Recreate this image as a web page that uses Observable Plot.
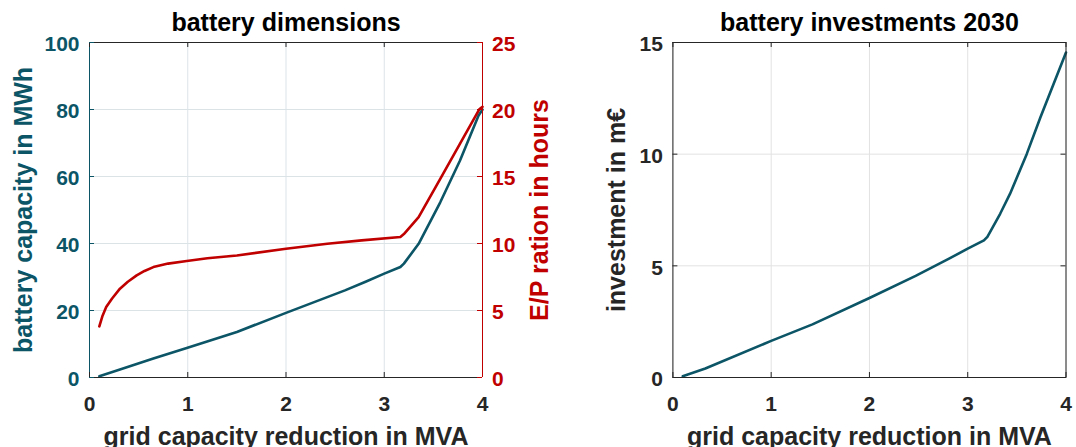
<!DOCTYPE html>
<html><head><meta charset="utf-8">
<script src="https://cdn.jsdelivr.net/npm/d3@7"></script>
<script src="https://cdn.jsdelivr.net/npm/@observablehq/plot@0.6"></script>
<style>
body{margin:0;background:#fff;}
#root{position:relative;width:1076px;height:447px;overflow:hidden;background:#fff;}
#root svg{position:absolute;top:0;}
</style></head><body><div id="root"></div>
<script>
// ---- data ----
const xTicks = [0, 1, 2, 3, 4];
const capTicks = [0, 20, 40, 60, 80, 100];
const epTicks = [0, 5, 10, 15, 20, 25];
const invTicks = [0, 5, 10, 15];
const xDomain = [0, 4];
const capDomain = [0, 100];
const epDomain = [0, 25];
const invDomain = [0, 15];

// battery capacity in MWh
const capX = [0.1, 0.31, 0.65, 0.99, 1.5, 2.0, 2.6, 2.81, 3.0, 3.164, 3.2, 3.35, 3.57, 3.77, 3.96, 4.0];
const capY = [0.4, 2.4, 5.66, 8.82, 13.6, 19.3, 26.0, 28.6, 31.0, 33.0, 34.0, 39.9, 52.3, 64.7, 78.2, 80.0];
// E/P ratio in hours
const epX = [0.1, 0.13, 0.17, 0.23, 0.31, 0.39, 0.48, 0.56, 0.65, 0.8, 0.99, 1.2, 1.5, 2.0, 2.42, 2.77, 3.164, 3.2, 3.35, 3.57, 3.77, 3.97, 4.0];
const epY = [3.82, 4.55, 5.26, 5.9, 6.63, 7.15, 7.62, 7.95, 8.24, 8.5, 8.69, 8.9, 9.11, 9.61, 9.98, 10.23, 10.48, 10.7, 11.97, 14.83, 17.44, 20.04, 20.2];
// investment in m€
const invX = [0.1, 0.33, 1.0, 1.42, 2.0, 2.47, 2.81, 3.0, 3.165, 3.2, 3.33, 3.43, 3.6, 3.74, 4.0];
const invY = [0.06, 0.40, 1.64, 2.38, 3.56, 4.55, 5.32, 5.77, 6.14, 6.3, 7.33, 8.22, 10.0, 11.65, 14.55];

const titles = ["battery dimensions", "battery investments 2030"];
const xLabel = "grid capacity reduction in MVA";
const capLabel = "battery capacity in MWh";
const epLabel = "E/P ration in hours";
const invLabel = "investment in m€";

// ---- styles ----
const FONT = "'Liberation Sans', Arial, Helvetica, sans-serif";
const DARK = "#262626", BLUE = "#0b5567", RED = "#c00000";
const H = 447, MT = 42, MB = 70;
const FH = H - MT - MB;
const TICK = 5;
const TF = 21, LF = 25;

const cap = capX.map((x, i) => ({x, y: capY[i]}));
const ep = epX.map((x, i) => ({x, y: epY[i]}));
const inv = invX.map((x, i) => ({x, y: invY[i]}));

function panel({width, ml, mr, yDomain, marks}) {
  return Plot.plot({
    width, height: H, marginTop: MT, marginBottom: MB, marginLeft: ml, marginRight: mr,
    x: {domain: xDomain, axis: null},
    y: {domain: yDomain, axis: null},
    style: {background: "transparent", fontFamily: FONT, overflow: "visible"},
    marks
  });
}
const txt = {fontWeight: "bold", fontSize: TF, lineAnchor: "middle"};
const lab = {fontWeight: "bold", fontSize: LF, lineAnchor: "middle", textAnchor: "middle"};

// left panel (capacity)
const LW = 560, LML = 89, LMR = 78, LFW = LW - LML - LMR;
const left = panel({
  width: LW, ml: LML, mr: LMR, yDomain: capDomain,
  marks: [
    Plot.ruleX(xTicks, {x: d => d, stroke: "#dbe3e7", strokeWidth: 1}),
    Plot.ruleY(capTicks, {y: d => d, stroke: "#dbe3e7", strokeWidth: 1}),
    Plot.line(cap, {x: "x", y: "y", stroke: BLUE, strokeWidth: 2.6, curve: "linear"}),
    Plot.ruleY([capDomain[0]], {y: d => d, stroke: DARK, strokeWidth: 1}),
    Plot.ruleY([capDomain[1]], {y: d => d, stroke: DARK, strokeWidth: 1}),
    Plot.ruleX([xDomain[0]], {x: d => d, stroke: BLUE, strokeWidth: 1}),
    Plot.tickX(xTicks, {x: d => d, stroke: DARK, insetTop: FH - TICK}),
    Plot.tickX(xTicks, {x: d => d, stroke: DARK, insetBottom: FH - TICK}),
    Plot.tickY(capTicks, {y: d => d, stroke: BLUE, insetRight: LFW - TICK}),
    Plot.text(xTicks, {x: d => d, text: d => String(d), frameAnchor: "bottom", textAnchor: "middle", dy: 26.6, fill: DARK, ...txt}),
    Plot.text(capTicks, {y: d => d, text: d => String(d), frameAnchor: "left", textAnchor: "end", dx: -10, dy: 2, fill: BLUE, ...txt}),
    Plot.text([titles[0]], {frameAnchor: "top", dy: -20, fill: "#000", ...lab}),
    Plot.text([xLabel], {frameAnchor: "bottom", dy: 59, fill: DARK, ...lab}),
    Plot.text([capLabel], {frameAnchor: "left", dx: -66, rotate: -90, fill: BLUE, ...lab})
  ]
});

// left panel overlay (E/P ratio, right axis)
const overlay = panel({
  width: LW, ml: LML, mr: LMR, yDomain: epDomain,
  marks: [
    Plot.line(ep, {x: "x", y: "y", stroke: RED, strokeWidth: 2.6, curve: "linear"}),
    Plot.ruleX([xDomain[1]], {x: d => d, stroke: RED, strokeWidth: 1}),
    Plot.tickY(epTicks, {y: d => d, stroke: RED, insetLeft: LFW - TICK}),
    Plot.text(epTicks, {y: d => d, text: d => String(d), frameAnchor: "right", textAnchor: "start", dx: 9.5, dy: 2, fill: RED, ...txt}),
    Plot.text([epLabel], {frameAnchor: "right", dx: 57, rotate: -90, fill: RED, ...lab})
  ]
});

// right panel (investment)
const RW = 536, RML = 132.4, RMR = 10.5, RFW = RW - RML - RMR;
const right = panel({
  width: RW, ml: RML, mr: RMR, yDomain: invDomain,
  marks: [
    Plot.ruleX(xTicks, {x: d => d, stroke: "#e2e2e2", strokeWidth: 1}),
    Plot.ruleY(invTicks, {y: d => d, stroke: "#e2e2e2", strokeWidth: 1}),
    Plot.line(inv, {x: "x", y: "y", stroke: BLUE, strokeWidth: 2.6, curve: "linear"}),
    Plot.frame({stroke: DARK, strokeWidth: 1}),
    Plot.tickX(xTicks, {x: d => d, stroke: DARK, insetTop: FH - TICK}),
    Plot.tickX(xTicks, {x: d => d, stroke: DARK, insetBottom: FH - TICK}),
    Plot.tickY(invTicks, {y: d => d, stroke: DARK, insetRight: RFW - TICK}),
    Plot.tickY(invTicks, {y: d => d, stroke: DARK, insetLeft: RFW - TICK}),
    Plot.text(xTicks, {x: d => d, text: d => String(d), frameAnchor: "bottom", textAnchor: "middle", dy: 26.6, fill: DARK, ...txt}),
    Plot.text(invTicks, {y: d => d, text: d => String(d), frameAnchor: "left", textAnchor: "end", dx: -10, dy: 2, fill: DARK, ...txt}),
    Plot.text([titles[1]], {frameAnchor: "top", dy: -20, fill: "#000", ...lab}),
    Plot.text([xLabel], {frameAnchor: "bottom", dy: 59, fill: DARK, ...lab}),
    Plot.text([invLabel], {frameAnchor: "left", dx: -56.4, rotate: -90, fill: DARK, ...lab})
  ]
});

const root = document.getElementById("root");
left.style.left = "0px";
overlay.style.left = "0px";
right.style.left = "540px";
root.appendChild(left);
root.appendChild(right);
root.appendChild(overlay);
</script>
</body></html>
